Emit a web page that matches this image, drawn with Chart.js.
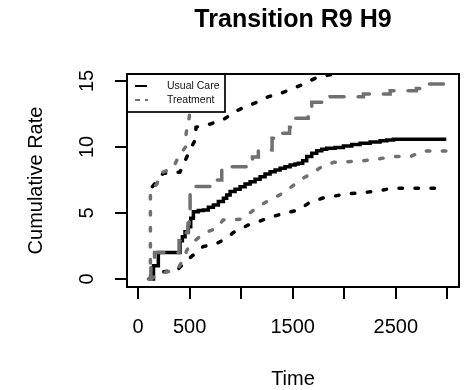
<!DOCTYPE html>
<html>
<head>
<meta charset="utf-8">
<script src="https://cdn.jsdelivr.net/npm/chart.js@4.4.1/dist/chart.umd.min.js"></script>
<style>
  html, body { margin: 0; padding: 0; background: #fff; }
  canvas { display: block; }
</style>
</head>
<body>
<canvas id="transitionChart" width="466" height="390"></canvas>
<script>
// axis ticks
const xTicks = [0, 500, 1000, 1500, 2000, 2500, 3000];
const xTickLabels = ['0', '500', '', '1500', '', '2500', ''];
const yTicks = [0, 5, 10, 15];
const seriesNames = ['Usual Care', 'Treatment'];

// Usual Care: cumulative rate (step curve)
const usualTime = [100, 150, 197, 407, 430, 456, 488, 511, 537, 585, 634, 682, 731, 779, 828, 860, 893, 941, 990, 1038, 1087, 1135, 1184, 1232, 1281, 1329, 1378, 1426, 1475, 1523, 1555, 1597, 1636, 1685, 1733, 1782, 1830, 1911, 1992, 2073, 2154, 2251, 2348, 2413, 2477, 2990];
const usualRate = [0, 1.0, 2.0, 2.9, 3.2, 3.58, 3.96, 4.6, 5.1, 5.18, 5.23, 5.43, 5.61, 5.86, 6.11, 6.36, 6.62, 6.79, 6.99, 7.2, 7.37, 7.55, 7.75, 7.95, 8.13, 8.26, 8.38, 8.51, 8.64, 8.71, 8.76, 8.96, 9.27, 9.52, 9.72, 9.82, 9.9, 9.97, 10.08, 10.18, 10.28, 10.38, 10.48, 10.53, 10.58, 10.58];
// Usual Care confidence band
const usualUpperTime = [140, 243, 407, 505, 553, 563, 702, 832, 941, 1038, 1167, 1264, 1394, 1507, 1620, 1717, 1846, 1960, 2990];
const usualUpper = [7.0, 8.0, 8.1, 9.8, 10.5, 11.5, 11.74, 12.1, 12.67, 13.05, 13.43, 13.81, 14.1, 14.44, 14.82, 15.2, 15.45, 15.55, 17];
const usualLowerTime = [120, 190, 378, 456, 534, 631, 766, 863, 921, 1070, 1167, 1296, 1426, 1555, 1652, 1782, 1911, 2008, 2186, 2332, 2477, 2990];
const usualLower = [0, 0.5, 0.65, 1.3, 1.8, 2.45, 2.7, 3.1, 3.5, 4.09, 4.34, 4.72, 4.98, 5.23, 5.73, 6.11, 6.29, 6.44, 6.54, 6.69, 6.87, 6.87];

// Treatment: cumulative rate (step curve)
const treatTime = [100, 125, 160, 398, 420, 485, 495, 505, 750, 812, 1057, 1110, 1167, 1300, 1394, 1470, 1523, 1650, 1685, 1863, 2186, 2445, 2700, 2768, 2990];
const treatRate = [0, 1.0, 2.0, 2.9, 3.5, 4.2, 5.0, 7.0, 7.5, 8.5, 9.05, 9.25, 9.77, 10.66, 11.04, 11.5, 12.17, 12.67, 13.38, 13.81, 14.02, 14.27, 14.44, 14.77, 14.77];
// Treatment confidence band
const treatUpperTime = [120, 120, 184, 213, 340, 388, 461, 466, 498, 530];
const treatUpper = [0, 6.7, 7.2, 8.0, 8.4, 9.2, 10.0, 11.0, 12.3, 17];
const treatLowerTime = [125, 200, 380, 440, 475, 534, 650, 766, 825, 1000, 1102, 1164, 1281, 1394, 1491, 1572, 1685, 1782, 1895, 2041, 2186, 2331, 2477, 2640, 2768, 2990];
const treatLower = [0, 0.4, 0.7, 1.5, 2.2, 2.8, 3.5, 3.86, 4.47, 4.52, 5.1, 5.48, 6.0, 6.45, 7.0, 7.5, 8.0, 8.5, 8.84, 8.89, 8.96, 9.1, 9.27, 9.27, 9.7, 9.7];

const FONT = "'Liberation Sans', Arial, Helvetica, sans-serif";
const BLACK = '#000000';
const GREY = '#707070';

const pts = (xs, ys) => xs.map((x, i) => ({ x: x, y: ys[i] }));

// legend box + plot frame, drawn like base R graphics
const framePlugin = {
    id: 'frame',
    afterDraw(chart) {
        const { ctx, chartArea: a } = chart;
        ctx.save();
        // legend
        const lx = a.left, ly = a.top, lw = 98, lh = 38;
        ctx.fillStyle = '#fff';
        ctx.fillRect(lx, ly, lw, lh);
        ctx.strokeStyle = BLACK;
        ctx.lineWidth = 1.7;
        ctx.strokeRect(lx, ly, lw, lh);

        ctx.lineWidth = 2;
        ctx.beginPath();
        ctx.moveTo(lx + 8, ly + 12);
        ctx.lineTo(lx + 20, ly + 12);
        ctx.stroke();
        ctx.strokeStyle = GREY;
        ctx.setLineDash([5, 5]);
        ctx.beginPath();
        ctx.moveTo(lx + 8, ly + 26);
        ctx.lineTo(lx + 21, ly + 26);
        ctx.stroke();
        ctx.setLineDash([]);

        ctx.fillStyle = '#111';
        ctx.font = '10.5px ' + FONT;
        ctx.textBaseline = 'middle';
        ctx.textAlign = 'left';
        ctx.fillText(seriesNames[0], lx + 40, ly + 12);
        ctx.fillText(seriesNames[1], lx + 40, ly + 26);

        // plot box
        ctx.strokeStyle = BLACK;
        ctx.lineWidth = 2;
        ctx.strokeRect(a.left, a.top, a.right - a.left, a.bottom - a.top);
        ctx.restore();
    }
};

const ctx = document.getElementById('transitionChart').getContext('2d');
const transitionChart = new Chart(ctx, {
    type: 'line',
    data: {
        datasets: [
            {
                label: seriesNames[1],
                data: pts(treatTime, treatRate),
                borderColor: GREY,
                borderWidth: 3.5,
                borderDash: [14, 14],
                borderCapStyle: 'round',
                stepped: true,
                order: 0
            },
            {
                label: seriesNames[1] + ' upper',
                data: pts(treatUpperTime, treatUpper),
                borderColor: GREY,
                borderWidth: 3.5,
                borderDash: [3.5, 12.5],
                borderCapStyle: 'round',
                order: 1
            },
            {
                label: seriesNames[1] + ' lower',
                data: pts(treatLowerTime, treatLower),
                borderColor: GREY,
                borderWidth: 3.5,
                borderDash: [3.5, 12.5],
                borderCapStyle: 'round',
                order: 2
            },
            {
                label: seriesNames[0],
                data: pts(usualTime, usualRate),
                borderColor: BLACK,
                borderWidth: 3.5,
                stepped: true,
                order: 3
            },
            {
                label: seriesNames[0] + ' upper',
                data: pts(usualUpperTime, usualUpper),
                borderColor: BLACK,
                borderWidth: 3.5,
                borderDash: [3.5, 12.5],
                borderCapStyle: 'round',
                order: 4
            },
            {
                label: seriesNames[0] + ' lower',
                data: pts(usualLowerTime, usualLower),
                borderColor: BLACK,
                borderWidth: 3.5,
                borderDash: [3.5, 12.5],
                borderCapStyle: 'round',
                order: 5
            }
        ]
    },
    options: {
        responsive: false,
        animation: false,
        layout: { padding: { top: 0, right: 7, bottom: 0, left: 0 } },
        elements: { point: { radius: 0 }, line: { tension: 0, fill: false } },
        plugins: {
            legend: { display: false },
            tooltip: { enabled: false },
            title: {
                display: true,
                text: 'Transition R9 H9',
                color: BLACK,
                fullSize: false,
                font: { family: FONT, size: 25, weight: 'bold' },
                padding: { top: 5, bottom: 39 }
            }
        },
        scales: {
            x: {
                type: 'linear',
                min: -107,
                max: 3113,
                afterBuildTicks: (s) => { s.ticks = xTicks.map(v => ({ value: v })); },
                afterFit: (s) => { s.height = 103; },
                grid: { drawOnChartArea: false, tickLength: 12, lineWidth: 2, color: BLACK },
                border: { display: false },
                ticks: {
                    autoSkip: false,
                    maxRotation: 0,
                    padding: 16,
                    color: BLACK,
                    font: { family: FONT, size: 20 },
                    callback: (v, i) => xTickLabels[i]
                },
                title: {
                    display: true,
                    text: 'Time',
                    color: BLACK,
                    font: { family: FONT, size: 20 },
                    padding: { top: 27, bottom: -1 }
                }
            },
            y: {
                type: 'linear',
                min: -0.61,
                max: 15.53,
                afterBuildTicks: (s) => { s.ticks = yTicks.map(v => ({ value: v })); },
                afterFit: (s) => { s.width = 127; },
                grid: { drawOnChartArea: false, tickLength: 12, lineWidth: 2, color: BLACK },
                border: { display: false },
                ticks: {
                    minRotation: 90,
                    maxRotation: 90,
                    crossAlign: 'center',
                    padding: 16,
                    color: BLACK,
                    font: { family: FONT, size: 20 },
                    callback: (v) => String(v)
                },
                title: {
                    display: true,
                    text: 'Cumulative Rate',
                    color: BLACK,
                    font: { family: FONT, size: 20 },
                    padding: { top: 24, bottom: 0 }
                }
            }
        }
    },
    plugins: [framePlugin]
});
</script>
</body>
</html>
